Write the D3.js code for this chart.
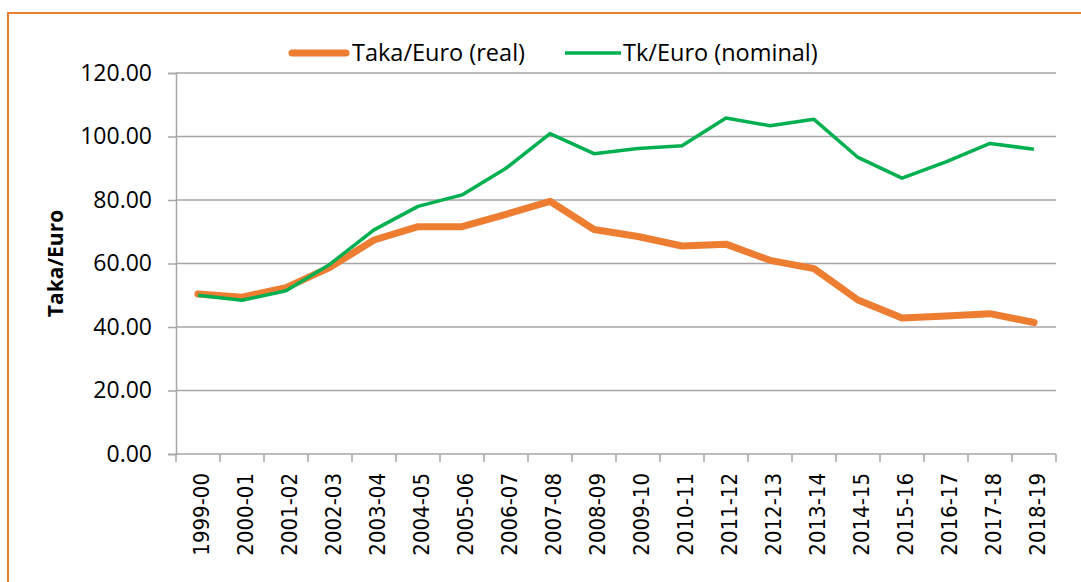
<!DOCTYPE html>
<html>
<head>
<meta charset="utf-8">
<script src="https://cdn.jsdelivr.net/npm/d3@7"></script>
<style>
  body { margin: 0; background: #fff; }
  #chart { width: 1081px; height: 582px; }
</style>
</head>
<body>
<div id="chart"></div>
<script>
const years = ["1999-00","2000-01","2001-02","2002-03","2003-04","2004-05","2005-06","2006-07","2007-08","2008-09",
  "2009-10","2010-11","2011-12","2012-13","2013-14","2014-15","2015-16","2016-17","2017-18","2018-19"];
const realRate = [50.4, 49.4, 52.4, 58.8, 67.4, 71.6, 71.6, 75.5, 79.6, 70.7,
  68.5, 65.5, 66.1, 61.0, 58.4, 48.5, 42.8, 43.5, 44.2, 41.4];
const nominalRate = [50.0, 48.4, 51.4, 59.8, 70.6, 78.0, 81.6, 90.0, 100.9, 94.6,
  96.2, 97.1, 105.8, 103.4, 105.4, 93.4, 86.9, 92.0, 97.8, 96.0];
const yTicks = [0, 20, 40, 60, 80, 100, 120];

const width = 1081, height = 582;
const margin = { top: 73, right: 25, bottom: 128, left: 176 };
const labelFont = "'Open Sans', sans-serif";

const svg = d3.select("#chart").append("svg")
  .attr("width", width).attr("height", height);

// orange frame around the chart
svg.append("rect")
  .attr("x", 8).attr("y", 13)
  .attr("width", width + 20).attr("height", height + 20)
  .attr("fill", "none").attr("stroke", "#ED7D31").attr("stroke-width", 2);

const x = d3.scaleBand().domain(years)
  .range([margin.left, width - margin.right]);
const y = d3.scaleLinear().domain([0, 120])
  .range([height - margin.bottom, margin.top]);

// gridlines
svg.append("g").selectAll("line").data(yTicks.slice(1)).join("line")
  .attr("x1", margin.left).attr("x2", width - margin.right)
  .attr("y1", d => y(d)).attr("y2", d => y(d))
  .attr("stroke", "#A6A6A6").attr("stroke-width", 1.5);

// y axis
const yAxis = svg.append("g")
  .attr("transform", `translate(${margin.left},0)`)
  .call(d3.axisLeft(y).tickValues(yTicks).tickFormat(d3.format(".2f")).tickSize(8).tickPadding(16));
yAxis.select(".domain").attr("stroke", "#A6A6A6").attr("stroke-width", 1.5);
yAxis.selectAll(".tick line").attr("stroke", "#A6A6A6").attr("stroke-width", 1.5);
yAxis.selectAll("text")
  .attr("fill", "#000")
  .style("font-family", labelFont).style("font-size", "23px");

// x axis, tick marks at band boundaries
const xg = svg.append("g")
  .attr("transform", `translate(0,${y(0)})`);
xg.append("line")
  .attr("x1", margin.left).attr("x2", width - margin.right)
  .attr("stroke", "#A6A6A6").attr("stroke-width", 1.5);
xg.selectAll(".tk").data(years.concat(["end"])).join("line")
  .attr("class", "tk")
  .attr("x1", (d, i) => margin.left + i * x.bandwidth())
  .attr("x2", (d, i) => margin.left + i * x.bandwidth())
  .attr("y1", 0).attr("y2", 8)
  .attr("stroke", "#A6A6A6").attr("stroke-width", 1.5);
xg.selectAll(".lbl").data(years).join("text")
  .attr("class", "lbl")
  .attr("transform", d => `translate(${x(d) + x.bandwidth() / 2 + 11},19) rotate(-90)`)
  .attr("text-anchor", "end")
  .attr("fill", "#000")
  .style("font-family", "'DejaVu Sans Condensed', 'DejaVu Sans', sans-serif")
  .style("font-stretch", "condensed")
  .style("font-size", "22px")
  .text(d => d);

// y axis title
svg.append("text")
  .attr("transform", `translate(63,${(y(0) + y(120)) / 2}) rotate(-90)`)
  .attr("text-anchor", "middle")
  .attr("fill", "#000")
  .style("font-family", labelFont).style("font-size", "21px").style("font-weight", "bold")
  .text("Taka/Euro");

// lines
const line = d3.line()
  .x((d, i) => x(years[i]) + x.bandwidth() / 2)
  .y(d => y(d));

svg.append("path").datum(realRate)
  .attr("d", line).attr("fill", "none")
  .attr("stroke", "#ED7D31").attr("stroke-width", 7)
  .attr("stroke-linecap", "round").attr("stroke-linejoin", "round");
svg.append("path").datum(nominalRate)
  .attr("d", line).attr("fill", "none")
  .attr("stroke", "#00B050").attr("stroke-width", 3.5)
  .attr("stroke-linejoin", "round");

// legend
const legend = [
  { label: "Taka/Euro (real)", color: "#ED7D31", w: 7, x: 292 },
  { label: "Tk/Euro (nominal)", color: "#00B050", w: 3.5, x: 565 }
];
const lg = svg.append("g").selectAll("g").data(legend).join("g")
  .attr("transform", d => `translate(${d.x},53)`);
lg.append("line")
  .attr("x1", 0).attr("x2", d => d.w > 5 ? 54 : 56)
  .attr("stroke", d => d.color).attr("stroke-width", d => d.w)
  .attr("stroke-linecap", d => d.w > 5 ? "round" : "butt");
lg.append("text")
  .attr("x", d => d.w > 5 ? 60 : 58).attr("y", 8)
  .attr("fill", "#000")
  .style("font-family", labelFont).style("font-size", "23.5px")
  .text(d => d.label);
</script>
</body>
</html>
